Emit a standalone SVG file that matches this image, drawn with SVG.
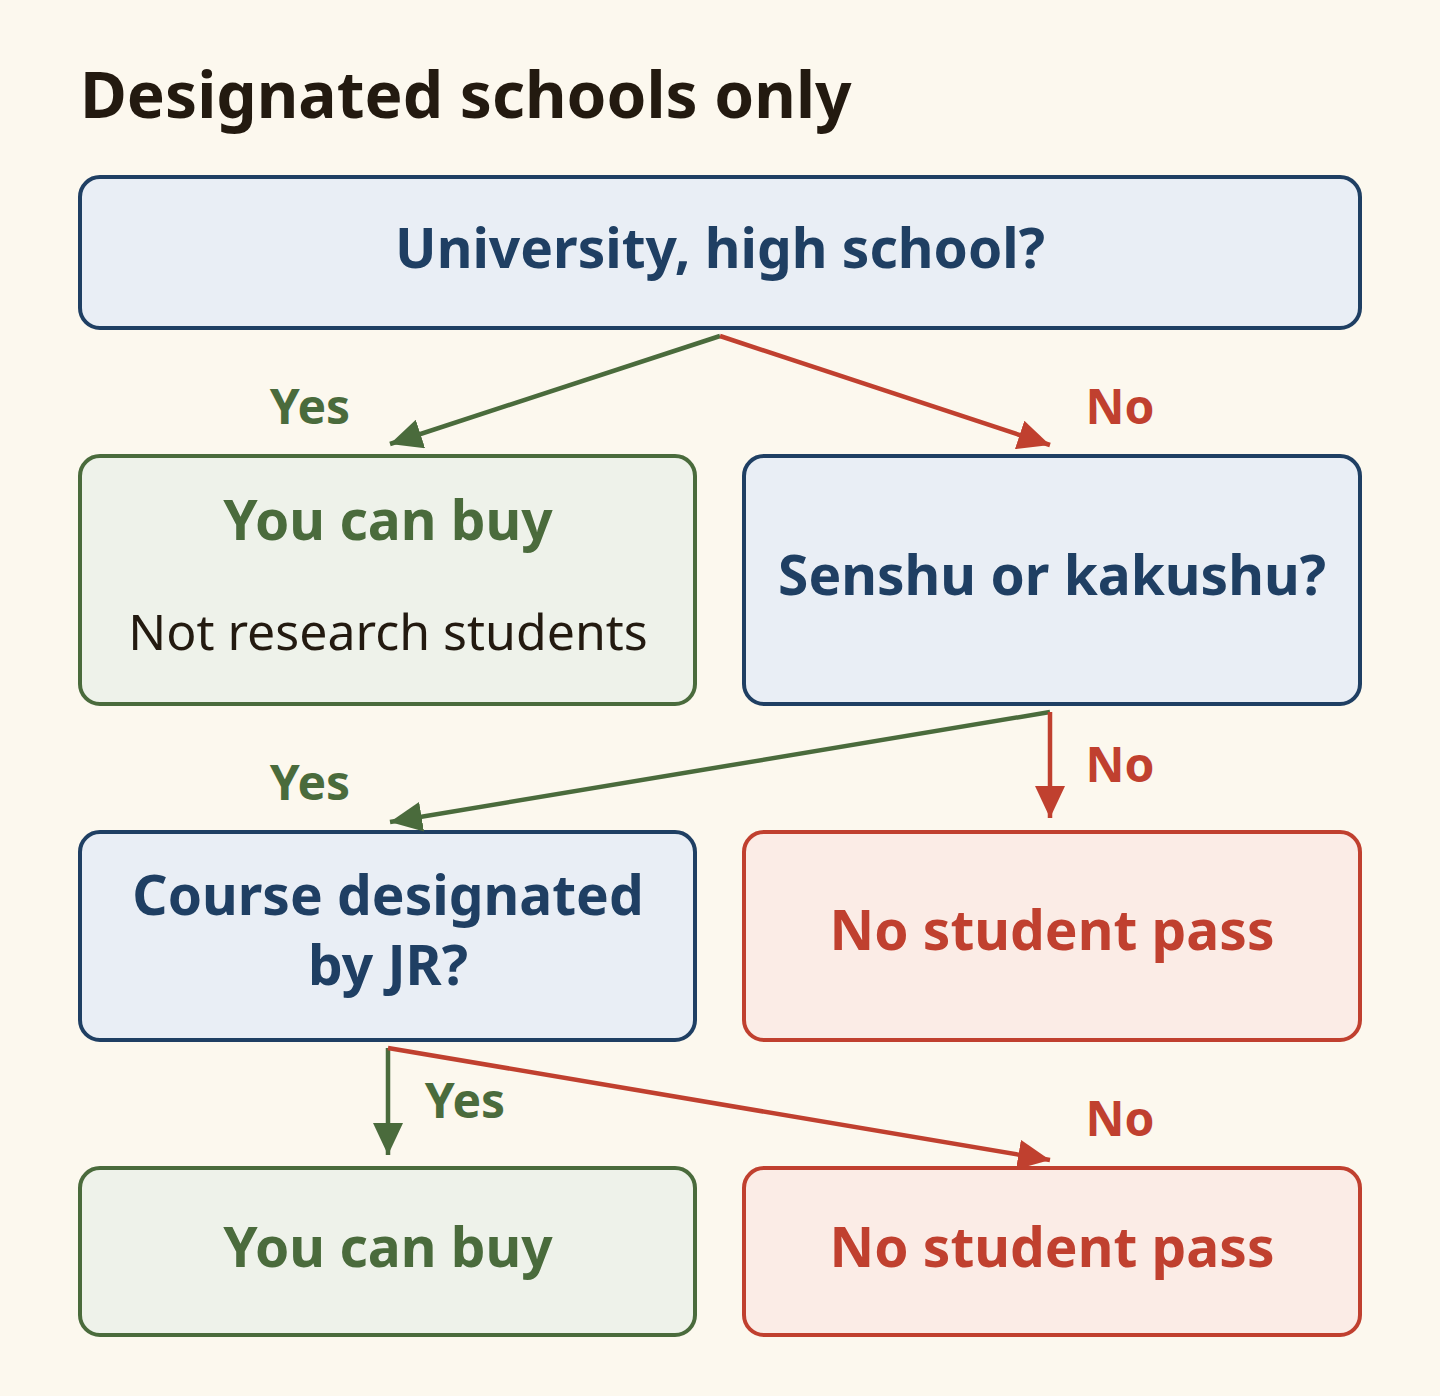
<svg xmlns="http://www.w3.org/2000/svg" width="1440" height="1396" viewBox="0 0 1440 1396">
<style>
text{font-family:"Noto Sans","Liberation Sans",sans-serif;text-anchor:middle;font-weight:bold}
.q rect{fill:#e9eef5;stroke:#1f3f63;stroke-width:4}
.q text{fill:#1f3f63;font-size:55px}
.g rect{fill:#eef2ea;stroke:#4a6b3c;stroke-width:4}
.g text{fill:#4a6b3c;font-size:55px}
.r rect{fill:#fbece6;stroke:#c0402f;stroke-width:4}
.r text{fill:#c0402f;font-size:55px}
.lg{stroke:#4a6b3c;stroke-width:4.5;fill:none;marker-end:url(#ag)}
.lr{stroke:#c0402f;stroke-width:4.5;fill:none;marker-end:url(#ar)}
.tg{fill:#4a6b3c;font-size:48px}
.tr{fill:#c0402f;font-size:48px}
</style>
<defs>
<marker id="ag" markerUnits="userSpaceOnUse" markerWidth="34" markerHeight="30" refX="32" refY="15" orient="auto"><path d="M0,0L32,15L0,30Z" fill="#4a6b3c"/></marker>
<marker id="ar" markerUnits="userSpaceOnUse" markerWidth="34" markerHeight="30" refX="32" refY="15" orient="auto"><path d="M0,0L32,15L0,30Z" fill="#c0402f"/></marker>
</defs>
<rect width="1440" height="1396" fill="#fcf8ee"/>
<text x="80" y="118" style="text-anchor:start;font-size:64px;fill:#231a10">Designated schools only</text>
<g id="n1" class="q"><rect x="80" y="177" width="1280" height="151" rx="20"/><text x="720" y="268">University, high school?</text></g>
<g id="n2" class="g"><rect x="80" y="456" width="615" height="248" rx="20"/><text x="388" y="540">You can buy</text><text x="388" y="650" style="font-weight:normal;font-size:50px;fill:#231a10">Not research students</text></g>
<g id="n3" class="q"><rect x="744" y="456" width="616" height="248" rx="20"/><text x="1052" y="595">Senshu or kakushu?</text></g>
<g id="n4" class="q"><rect x="80" y="832" width="615" height="208" rx="20"/><text x="388" y="915">Course designated</text><text x="388" y="985">by JR?</text></g>
<g id="n5" class="r"><rect x="744" y="832" width="616" height="208" rx="20"/><text x="1052" y="950">No student pass</text></g>
<g id="n6" class="g"><rect x="80" y="1168" width="615" height="167" rx="20"/><text x="388" y="1267">You can buy</text></g>
<g id="n7" class="r"><rect x="744" y="1168" width="616" height="167" rx="20"/><text x="1052" y="1267">No student pass</text></g>
<g id="connectors">
<path class="lg" d="M720,336L390,444"/>
<path class="lr" d="M720,336L1050,445"/>
<path class="lg" d="M1050,712L390,822"/>
<path class="lr" d="M1050,712L1050,818"/>
<path class="lg" d="M388,1048L388,1155"/>
<path class="lr" d="M388,1048L1050,1160"/>
<text class="tg" x="310" y="424">Yes</text>
<text class="tr" x="1120" y="424">No</text>
<text class="tg" x="310" y="800">Yes</text>
<text class="tr" x="1120" y="782">No</text>
<text class="tg" x="465" y="1118">Yes</text>
<text class="tr" x="1120" y="1136">No</text>
</g>
</svg>
